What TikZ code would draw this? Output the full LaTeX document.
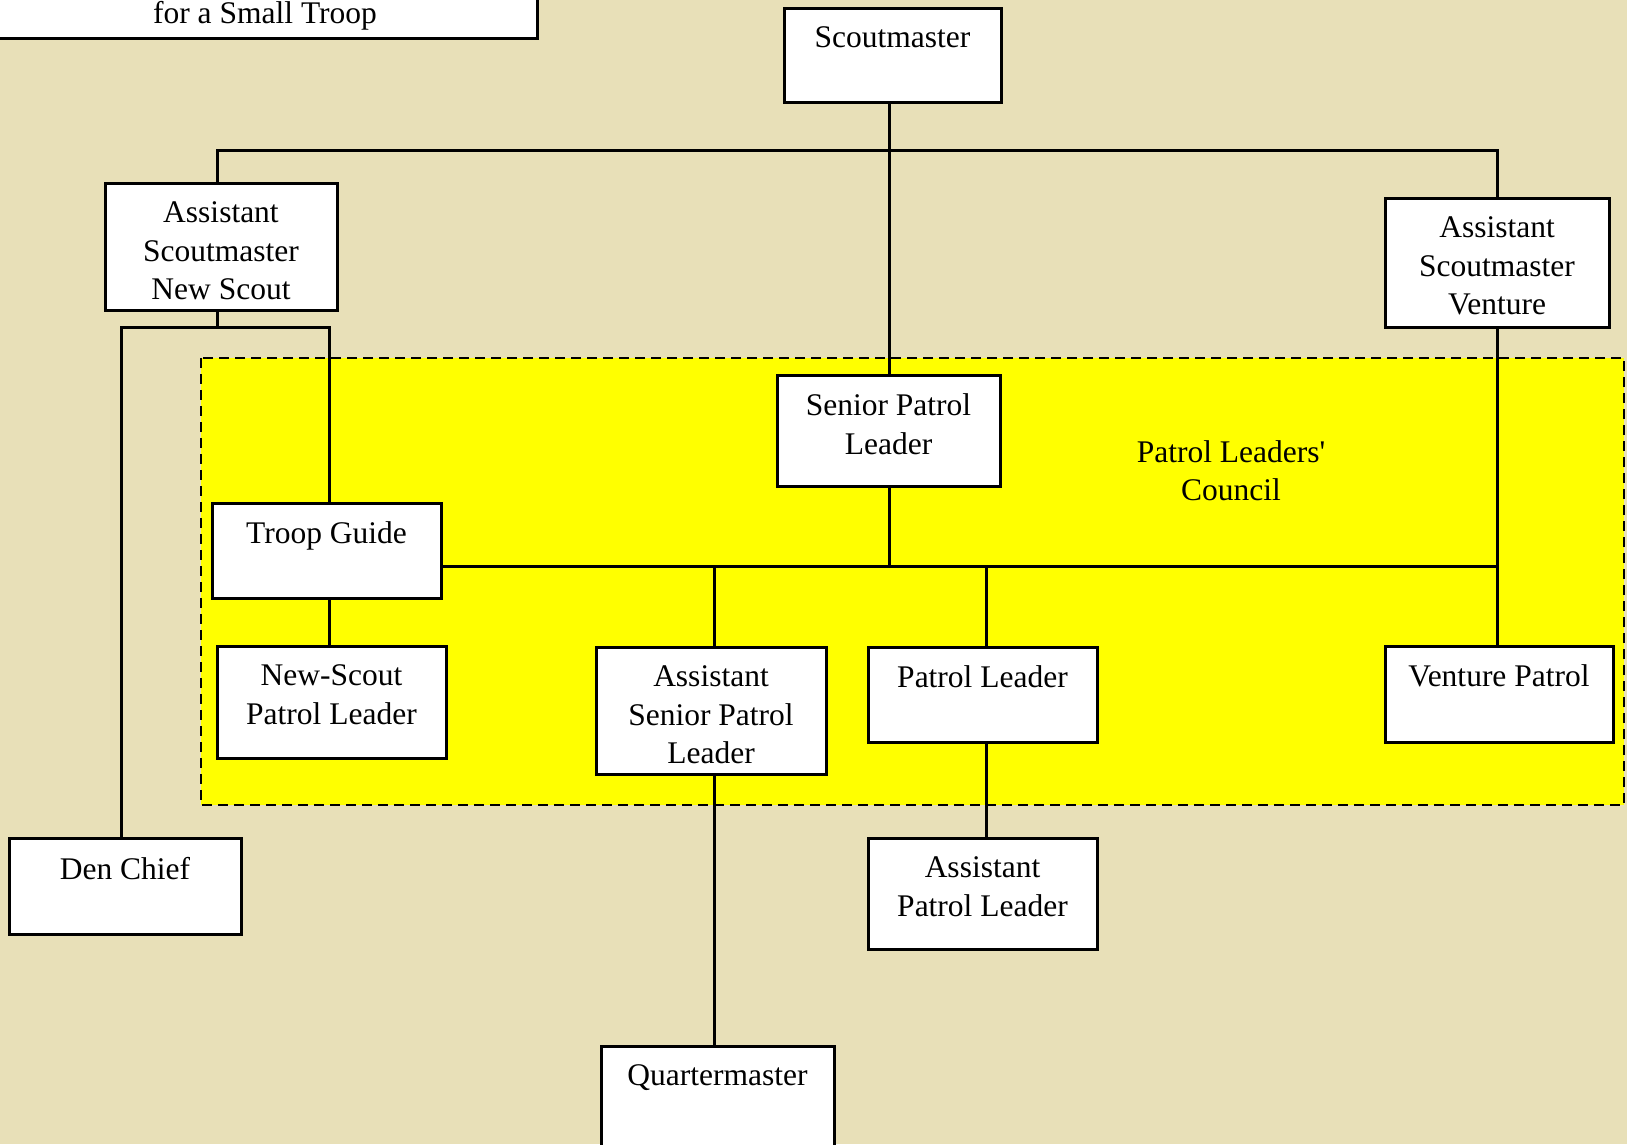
\documentclass[tikz,border=0pt]{standalone}
\usepackage{fontspec}
\setmainfont{Liberation Serif}
\definecolor{bgtan}{RGB}{232,224,184}
\definecolor{plcyellow}{RGB}{255,255,0}
\newcommand{\bxt}[4][19pt]{\parbox[c][#3pt][t]{#2pt}{\centering\vspace*{#1}#4\par}}
\tikzset{
  orgbox/.style={draw=black, fill=white, line width=3pt, inner sep=0pt, outer sep=0pt, anchor=north west},
  conn/.style={draw=black, line width=3pt},
  council/.style={draw=black, fill=plcyellow, line width=2.6pt, dash pattern=on 10pt off 6pt}
}
\begin{document}
\begin{tikzpicture}[x=1pt,y=-1pt,font=\fontsize{31.5}{38.5}\selectfont]
\path[use as bounding box] (0,0) rectangle (1627,1144);
\clip (0,0) rectangle (1627,1144);
\fill[bgtan] (0,0) rectangle (1627,1144);
% council region
\path[council] (201,358) rectangle (1624,805);
\node[anchor=base] (plc) at (1231,462) {\begin{tabular}[t]{@{}c@{}}Patrol Leaders\textquotesingle\\[-0.5pt]Council\end{tabular}};
% boxes
\node[orgbox] (title) at (-7,-60) {\bxt[61pt]{544}{98}{for a Small Troop}};
\node[orgbox] (sm) at (784,8) {\bxt{217}{94}{Scoutmaster}};
\node[orgbox] (asmn) at (105,183) {\bxt{232}{127}{Assistant\\Scoutmaster\\New Scout}};
\node[orgbox] (asmv) at (1385,198) {\bxt{224}{129}{Assistant\\Scoutmaster\\Venture}};
\node[orgbox] (spl) at (777,375) {\bxt{223}{111}{Senior Patrol\\Leader}};
\node[orgbox] (tg) at (212,503) {\bxt{229}{95}{Troop Guide}};
\node[orgbox] (nspl) at (217,646) {\bxt{229}{112}{New-Scout\\Patrol Leader}};
\node[orgbox] (aspl) at (596,647) {\bxt{230}{127}{Assistant\\Senior Patrol\\Leader}};
\node[orgbox] (pl) at (868,647) {\bxt{229}{95}{Patrol Leader}};
\node[orgbox] (vp) at (1385,646) {\bxt{228}{96}{Venture Patrol}};
\node[orgbox] (dc) at (9,838) {\bxt{232}{96}{Den Chief}};
\node[orgbox] (apl) at (868,838) {\bxt{229}{111}{Assistant\\Patrol Leader}};
\node[orgbox] (qm) at (601,1046) {\bxt{233}{120}{Quartermaster}};
% connectors
\coordinate (bus2) at (0,566);
\draw[conn] ([xshift=0.5pt]spl.north) -- ([xshift=0.5pt]spl.north |- sm.south);
\draw[conn] ([xshift=-4pt]asmn.north) -- ++(0,-33) -| (asmv.north);
\draw[conn] ([xshift=-4pt]asmn.south) -- ++(0,17) coordinate (j1);
\draw[conn] ([xshift=-4pt]dc.north) |- (j1) -| ([xshift=2.5pt]tg.north);
\draw[conn] (tg.east |- bus2) -- (asmv.south |- bus2);
\draw[conn] ([xshift=0.5pt]spl.south) -- ([xshift=0.5pt]spl.south |- bus2);
\draw[conn] ([xshift=3pt]aspl.north) -- ([xshift=3pt]aspl.north |- bus2);
\draw[conn] ([xshift=3.5pt]pl.north) -- ([xshift=3.5pt]pl.north |- bus2);
\draw[conn] (asmv.south) -- (asmv.south |- vp.north);
\draw[conn] ([xshift=2.5pt]tg.south) -- ([xshift=2.5pt]tg.south |- nspl.north);
\draw[conn] ([xshift=3.5pt]pl.south) -- ([xshift=3.5pt]pl.south |- apl.north);
\draw[conn] ([xshift=3pt]aspl.south) -- ([xshift=3pt]aspl.south |- qm.north);
\end{tikzpicture}
\end{document}
